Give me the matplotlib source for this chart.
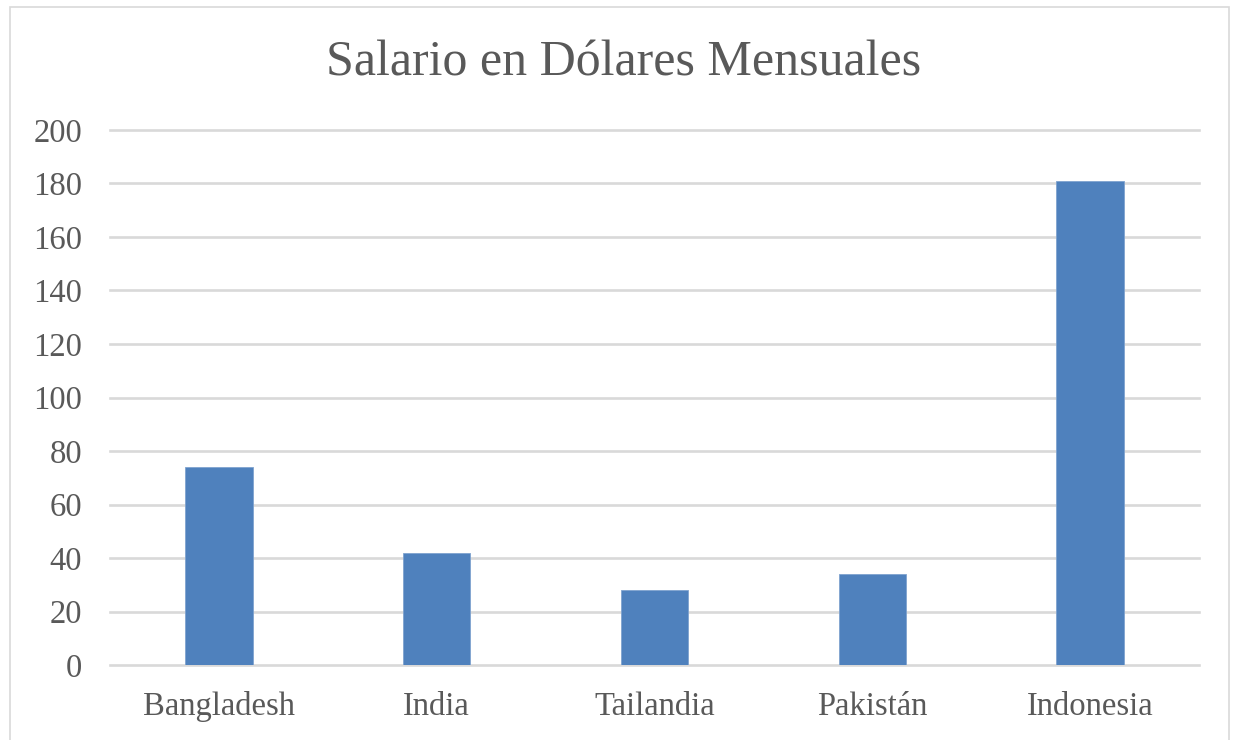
import matplotlib.pyplot as plt
from matplotlib.patches import Rectangle

paises = ["Bangladesh", "India", "Tailandia", "Pakistán", "Indonesia"]
salarios = [74, 42, 28, 34, 181]
y_ticks = [0, 20, 40, 60, 80, 100, 120, 140, 160, 180, 200]

TEXT_COLOR = "#595959"
GRID_COLOR = "#d9d9d9"
BAR_COLOR = "#4f81bd"

plt.rcParams["font.family"] = ["Liberation Serif", "DejaVu Serif"]

fig = plt.figure(figsize=(12.38, 7.40), dpi=100)
W, H = 1238, 740
ax = fig.add_axes([110 / W, 1 - 665 / H, (1199 - 110) / W, (665 - 130) / H])

x = list(range(len(paises)))
ax.bar(x, salarios, width=0.31, color=BAR_COLOR, edgecolor="#7fa3cf", linewidth=0.6, zorder=3)

ax.set_xlim(-0.5, len(paises) - 0.5)
ax.set_ylim(0, 200)
ax.set_yticks(y_ticks)
ax.set_xticks(x)
ax.set_xticklabels(paises)
ax.yaxis.grid(True, color=GRID_COLOR, linewidth=1.9, zorder=0)
for line in ax.get_ygridlines():
    line.set_clip_on(False)
ax.tick_params(axis="both", length=0, labelsize=23.5, colors=TEXT_COLOR)
ax.tick_params(axis="y", pad=20)
ax.tick_params(axis="x", pad=19)
for spine in ax.spines.values():
    spine.set_visible(False)

fig.text(624 / W, 1 - 63 / H, "Salario en Dólares Mensuales", ha="center", va="center",
         fontsize=36, color=TEXT_COLOR)

fig.patches.append(Rectangle((10 / W, -0.05), (1229 - 10) / W, 1.05 - 7 / H,
                             transform=fig.transFigure, fill=False,
                             edgecolor=GRID_COLOR, linewidth=1.2))

fig.savefig("out.png", dpi=100)
